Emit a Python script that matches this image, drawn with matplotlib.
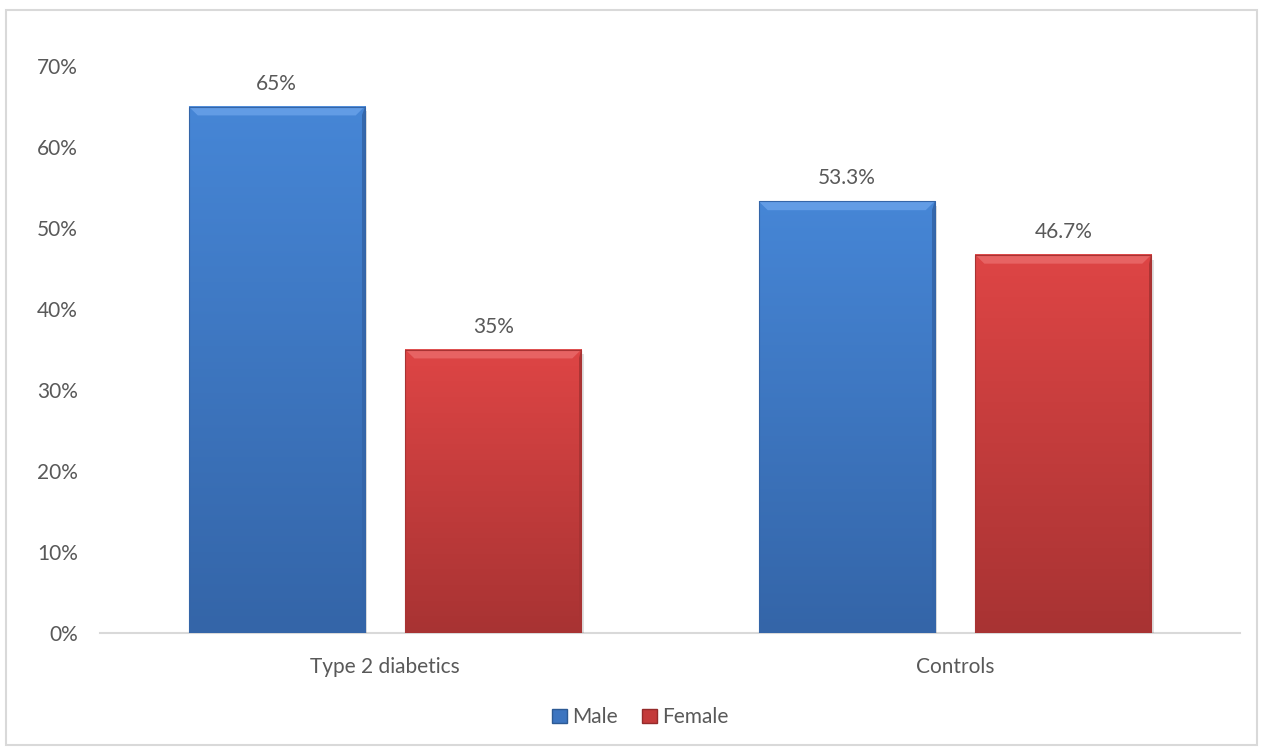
import numpy as np
import matplotlib
matplotlib.use('Agg')
import matplotlib.pyplot as plt
from matplotlib.patches import Rectangle, Polygon, Patch

plt.rcParams['font.family'] = ['Lato', 'DejaVu Sans']

categories = ['Type 2 diabetics', 'Controls']
series = ['Male', 'Female']
male = [65.0, 53.3]
female = [35.0, 46.7]
labels_male = ['65%', '53.3%']
labels_female = ['35%', '46.7%']
yticks = [0, 10, 20, 30, 40, 50, 60, 70]

# top / bottom gradient colours, bevel colour
blue = ('#4686d6', '#3465a8', '#6fa6ec')
red = ('#de4545', '#a83333', '#ec7171')
txt = '#595959'
fs = 15

fig = plt.figure(figsize=(12.63, 7.51), dpi=100)
ax = fig.add_axes([0.0792, 0.1571, 0.9026, 0.755])

# frame around the whole chart
fig.patches.append(Rectangle((6 / 1263, 6 / 751), 1251 / 1263, 735 / 751,
                             transform=fig.transFigure, fill=False,
                             edgecolor='#d9d9d9', linewidth=1.5))

width = 0.309
off = 0.19
x = np.arange(len(categories))


def grad_bar(xc, h, cols, label):
    top, bot, bev = cols
    x0, x1 = xc - width / 2, xc + width / 2
    c0 = np.array(matplotlib.colors.to_rgb(top))
    c1 = np.array(matplotlib.colors.to_rgb(bot))
    t = np.linspace(0, 1, 200)[:, None]
    img = (c0 * (1 - t) + c1 * t)[:, None, :]
    # drop shadow
    ax.add_patch(Rectangle((x0 + 0.004, -0.3), width, h - 0.3, facecolor='#000000',
                           alpha=0.12, linewidth=0, zorder=1))
    ax.imshow(img, extent=[x0, x1, 0, h], aspect='auto', origin='upper', zorder=2)
    dx, dy = 0.016, 1.1
    ax.add_patch(Polygon([[x0, h], [x1, h], [x1 - dx, h - dy], [x0 + dx, h - dy]],
                         closed=True, facecolor=bev, edgecolor='none', alpha=0.7, zorder=3))
    ax.add_patch(Polygon([[x1, h], [x1, 0], [x1 - 0.005, 0], [x1 - 0.005, h - dy]],
                         closed=True, facecolor=bot, edgecolor='none', alpha=0.9, zorder=3))
    ax.add_patch(Rectangle((x0, 0), width, h, fill=False, edgecolor=bot,
                           linewidth=0.8, zorder=4))
    ax.text(xc, h + 1.6, label, ha='center', va='bottom', fontsize=fs, color=txt)


for i in range(len(categories)):
    grad_bar(x[i] - off, male[i], blue, labels_male[i])
    grad_bar(x[i] + off, female[i], red, labels_female[i])

ax.set_xlim(-0.5, 1.5)
ax.set_ylim(0, 70)
ax.set_xticks(x)
ax.set_xticklabels(categories, fontsize=fs, color=txt)
ax.set_yticks(yticks)
ax.set_yticklabels([f'{v}%' for v in yticks], fontsize=fs, color=txt)
ax.tick_params(length=0)
ax.tick_params(axis='x', pad=17)
ax.tick_params(axis='y', pad=16)
for s in ['top', 'right', 'left']:
    ax.spines[s].set_visible(False)
ax.spines['bottom'].set_color('#d9d9d9')
ax.spines['bottom'].set_linewidth(1.5)
ax.spines['bottom'].set_zorder(0)

handles = [Patch(facecolor='#3d75c0', edgecolor='#2d5a94'),
           Patch(facecolor='#c43b3b', edgecolor='#952b2b')]
fig.legend(handles, series, loc='center', bbox_to_anchor=(0.507, 0.045), ncol=2,
           frameon=False, fontsize=fs, labelcolor=txt, handlelength=0.7,
           handleheight=0.7, handletextpad=0.25, columnspacing=1.2)

fig.savefig('out.png', dpi=100)
